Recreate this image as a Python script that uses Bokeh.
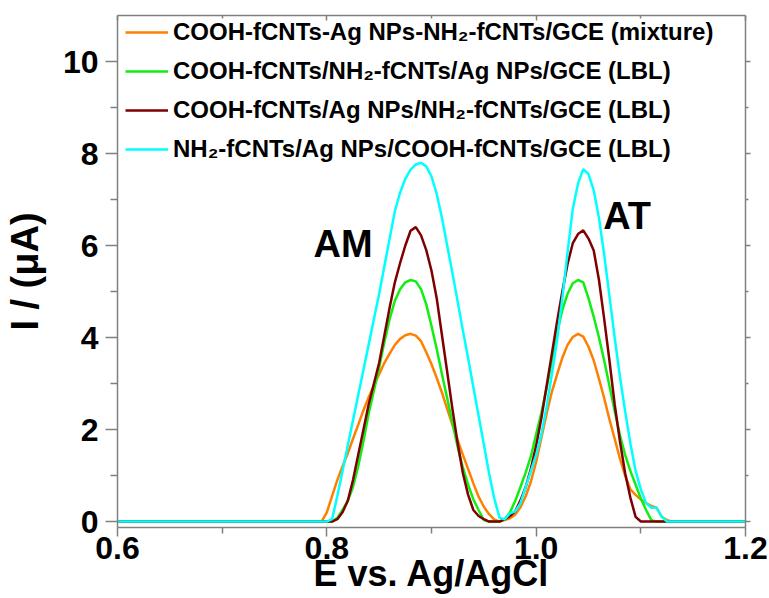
from bokeh.plotting import figure
from bokeh.models import (Range1d, LinearAxis, FixedTicker, PrintfTickFormatter,
                          Legend, LegendItem, Label, ColumnDataSource)
from bokeh.embed import file_html
from bokeh.resources import INLINE

# ---- data ----
potential = [0.600, 0.700, 0.790, 0.795, 0.800, 0.805, 0.810, 0.815, 0.820, 0.825,
             0.830, 0.835, 0.840, 0.845, 0.850, 0.855, 0.860, 0.865, 0.870, 0.875,
             0.880, 0.885, 0.890, 0.895, 0.900, 0.905, 0.910, 0.915, 0.920, 0.925,
             0.930, 0.935, 0.940, 0.945, 0.950, 0.955, 0.960, 0.965, 0.970, 0.975,
             0.980, 0.985, 0.990, 0.995, 1.000, 1.005, 1.010, 1.015, 1.020, 1.025,
             1.030, 1.035, 1.040, 1.045, 1.050, 1.055, 1.060, 1.065, 1.070, 1.075,
             1.080, 1.085, 1.090, 1.095, 1.100, 1.105, 1.110, 1.115, 1.120, 1.125,
             1.130, 1.150, 1.200]

mixture = [0, 0, 0, 0.0, 0.2, 0.55, 0.9, 1.2, 1.48, 1.8,
           2.1, 2.42, 2.7, 2.96, 3.2, 3.45, 3.65, 3.84, 3.97, 4.05,
           4.08, 4.04, 3.92, 3.68, 3.42, 3.12, 2.8, 2.45, 2.1, 1.77,
           1.45, 1.14, 0.83, 0.54, 0.32, 0.16, 0.04, 0.0, 0.03, 0.07,
           0.15, 0.31, 0.55, 0.87, 1.3, 1.82, 2.35, 2.82, 3.2, 3.56,
           3.84, 4.01, 4.08, 4.02, 3.8, 3.5, 3.1, 2.68, 2.22, 1.8,
           1.37, 1.0, 0.7, 0.58, 0.48, 0.4, 0.34, 0.3, 0.1, 0.03,
           0.0, 0, 0]

lbl_cooh_nh2_ag = [0, 0, 0, 0, 0, 0, 0.08, 0.25, 0.45, 0.75,
                   1.2, 1.75, 2.35, 2.85, 3.35, 3.9, 4.4, 4.8, 5.05, 5.2,
                   5.25, 5.22, 5.05, 4.72, 4.25, 3.75, 3.2, 2.68, 2.15, 1.62,
                   1.17, 0.8, 0.48, 0.25, 0.03, 0, 0, 0, 0.05, 0.2,
                   0.45, 0.75, 1.07, 1.42, 1.9, 2.37, 2.9, 3.5, 4.1, 4.6,
                   4.95, 5.18, 5.25, 5.2, 4.85, 4.45, 4.0, 3.5, 2.95, 2.4,
                   1.88, 1.45, 1.1, 0.8, 0.5, 0.25, 0.03, 0, 0, 0,
                   0, 0, 0]

lbl_cooh_ag_nh2 = [0, 0, 0, 0, 0, 0, 0.05, 0.2, 0.45, 0.9,
                   1.45, 2.0, 2.55, 3.0, 3.45, 4.05, 4.65, 5.2, 5.62, 6.0,
                   6.32, 6.4, 6.22, 5.9, 5.45, 4.85, 4.05, 3.25, 2.45, 1.7,
                   1.05, 0.58, 0.25, 0.12, 0.05, 0, 0, 0, 0.05, 0.12,
                   0.22, 0.46, 0.75, 1.15, 1.65, 2.25, 2.95, 3.65, 4.35, 5.0,
                   5.6, 6.05, 6.25, 6.33, 6.15, 5.89, 5.25, 4.4, 3.5, 2.55,
                   1.75, 1.05, 0.52, 0.1, 0, 0, 0, 0, 0, 0,
                   0, 0, 0]

lbl_nh2_ag_cooh = [0, 0, 0, 0, 0, 0.05, 0.55, 1.1, 1.65, 2.2,
                   2.75, 3.3, 3.85, 4.4, 4.95, 5.55, 6.15, 6.75, 7.15, 7.45,
                   7.65, 7.76, 7.8, 7.72, 7.5, 7.12, 6.6, 6.0, 5.4, 4.78,
                   4.15, 3.55, 2.92, 2.3, 1.68, 1.05, 0.5, 0.08, 0.05, 0.18,
                   0.22, 0.4, 0.75, 1.1, 1.45, 1.9, 2.5, 3.2, 3.95, 4.85,
                   5.85, 6.8, 7.35, 7.66, 7.55, 7.2, 6.6, 5.8, 4.9, 4.0,
                   3.15, 2.4, 1.7, 1.1, 0.7, 0.4, 0.3, 0.3, 0.1, 0.0,
                   0, 0, 0]

series_labels = [
    "COOH-fCNTs-Ag NPs-NH\u2082-fCNTs/GCE (mixture)",
    "COOH-fCNTs/NH\u2082-fCNTs/Ag NPs/GCE (LBL)",
    "COOH-fCNTs/Ag NPs/NH\u2082-fCNTs/GCE (LBL)",
    "NH\u2082-fCNTs/Ag NPs/COOH-fCNTs/GCE (LBL)",
]
series_colors = ["#ff8000", "#11ee11", "#7f0000", "#00ffff"]

x_ticks = [0.6, 0.8, 1.0, 1.2]
x_minor = [0.7, 0.9, 1.1]
y_ticks = [0, 2, 4, 6, 8, 10]
y_minor = [1, 3, 5, 7, 9]

SANS = "Liberation Sans"
AXIS_GRAY = "#808080"

p = figure(width=769, height=598, output_backend="svg", toolbar_location=None,
           x_range=Range1d(0.6, 1.2), y_range=Range1d(-0.13, 11.0),
           x_axis_type=None, y_axis_type=None,
           min_border_left=117, min_border_right=24, min_border_top=15,
           min_border_bottom=71)
p.outline_line_color = None
p.xgrid.visible = False
p.ygrid.visible = False
p.background_fill_color = "white"
p.border_fill_color = "white"


def style(ax, tick_out, minor_out, tick_in=0, minor_in=0):
    ax.axis_line_color = AXIS_GRAY
    ax.axis_line_width = 1.5
    ax.major_tick_line_color = AXIS_GRAY
    ax.major_tick_line_width = 1.5
    ax.minor_tick_line_color = AXIS_GRAY
    ax.minor_tick_line_width = 1.5
    ax.major_tick_out = tick_out
    ax.major_tick_in = tick_in
    ax.minor_tick_out = minor_out
    ax.minor_tick_in = minor_in
    ax.major_label_text_font = SANS
    ax.major_label_text_font_style = "bold"
    ax.major_label_text_color = "black"
    ax.axis_label_text_font = SANS
    ax.axis_label_text_font_style = "bold"
    ax.axis_label_text_color = "black"


xb = LinearAxis(ticker=FixedTicker(ticks=x_ticks, minor_ticks=x_minor),
                formatter=PrintfTickFormatter(format="%.1f"))
style(xb, 9, 6)
xb.major_label_text_font_size = "32px"
xb.major_label_standoff = 0
xb.axis_label = "E vs. Ag/AgCl"
xb.axis_label_text_font_size = "36px"
xb.axis_label_standoff = -9
p.add_layout(xb, "below")

yl = LinearAxis(ticker=FixedTicker(ticks=y_ticks, minor_ticks=y_minor))
style(yl, 12, 7)
yl.major_label_text_font_size = "32px"
yl.major_label_standoff = 7
yl.axis_label = "I / (\u03bcA)"
yl.axis_label_text_font_size = "38px"
yl.axis_label_standoff = 14
p.add_layout(yl, "left")

xt = LinearAxis(ticker=FixedTicker(ticks=x_ticks, minor_ticks=x_minor))
style(xt, 0, 0, 5, 3)
xt.major_label_overrides = {t: "" for t in x_ticks}
xt.major_label_standoff = 0
p.add_layout(xt, "above")

yr = LinearAxis(ticker=FixedTicker(ticks=y_ticks, minor_ticks=y_minor))
style(yr, 5, 3)
yr.major_label_overrides = {t: "" for t in y_ticks}
yr.major_label_standoff = 0
p.add_layout(yr, "right")

all_series = [mixture, lbl_cooh_nh2_ag, lbl_cooh_ag_nh2, lbl_nh2_ag_cooh]
items = []
for vals, lab, col in zip(all_series, series_labels, series_colors):
    src = ColumnDataSource(data=dict(x=potential, y=vals))
    r = p.line("x", "y", source=src, line_color=col, line_width=2.5)
    items.append(LegendItem(label=lab, renderers=[r]))

legend = Legend(items=items, location=(8, 363))
legend.label_text_font = SANS
legend.label_text_font_style = "bold"
legend.label_text_font_size = "24px"
legend.label_text_color = "black"
legend.glyph_width = 43
legend.glyph_height = 20
legend.label_standoff = 5
legend.label_height = 30
legend.spacing = 9
legend.padding = 0
legend.margin = 0
legend.border_line_color = None
legend.background_fill_alpha = 0
p.add_layout(legend)

p.add_layout(Label(x=0.7873, y=6.03, text="AM", text_font=SANS,
                   text_font_style="bold", text_font_size="38px",
                   text_baseline="alphabetic", text_color="black"))
p.add_layout(Label(x=1.064, y=6.65, text="AT", text_font=SANS,
                   text_font_style="bold", text_font_size="38px",
                   text_baseline="alphabetic", text_color="black"))

open("out.html", "w").write(file_html(p, INLINE))
